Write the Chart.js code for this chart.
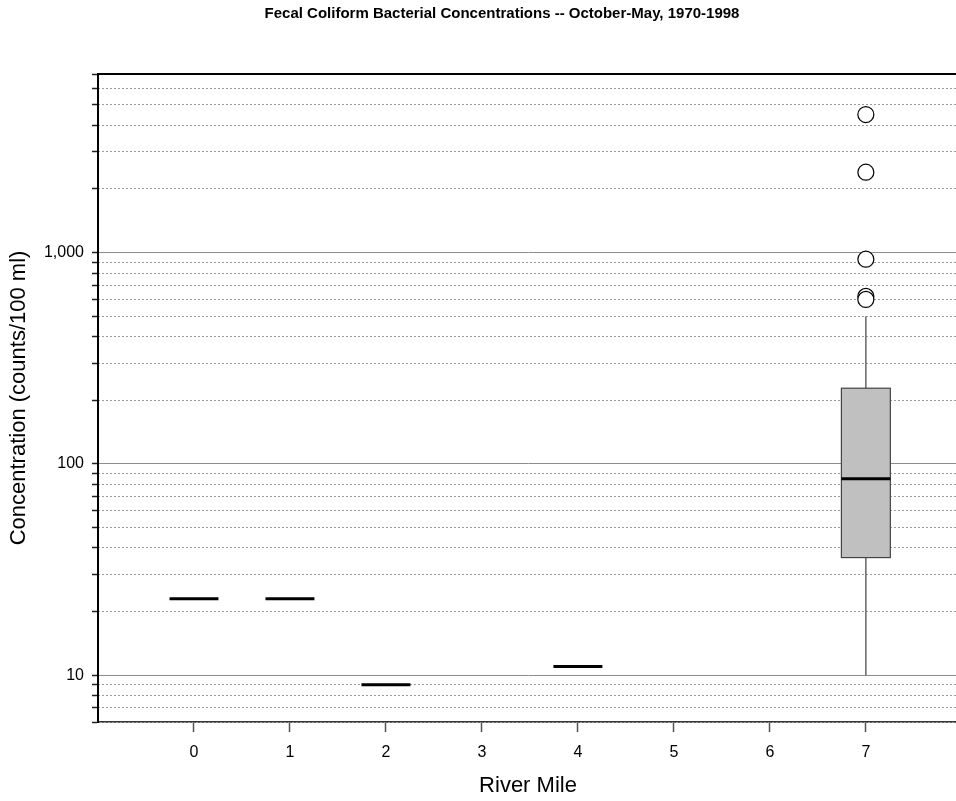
<!DOCTYPE html>
<html>
<head>
<meta charset="utf-8">
<script src="https://cdn.jsdelivr.net/npm/chart.js@4.4.1/dist/chart.umd.min.js"></script>
<style>
    html, body { margin: 0; padding: 0; background: #fff; overflow: hidden; }
    #wrap { width: 1004px; height: 801px; position: relative; }
</style>
</head>
<body>
<div id="wrap"><canvas id="fecalChart"></canvas></div>
<script>
// River miles (categories) and the summary values
const miles = [0, 1, 2, 3, 4, 5, 6, 7];
const medians = [23, 23, 9, null, 11, null, null, 85];
const q1 = [null, null, null, null, null, null, null, 36];
const q3 = [null, null, null, null, null, null, null, 228];
const whiskerLow = [null, null, null, null, null, null, null, 10];
const whiskerHigh = [null, null, null, null, null, null, null, 500];

// outliers (all at river mile 7)
const outlierMiles = [7, 7, 7, 7, 7];
const outlierValues = [4500, 2400, 930, 620, 600];

// y tick values
const majorTicks = [10, 100, 1000];
const minorTicks = [6, 7, 8, 9, 20, 30, 40, 50, 60, 70, 80, 90,
    200, 300, 400, 500, 600, 700, 800, 900, 2000, 3000, 4000, 5000, 6000, 7000];
const allTicks = [...minorTicks, ...majorTicks].sort((a, b) => a - b);

const FONT = '"Liberation Sans", Arial, sans-serif';
const BOX_HALF = 0.255;
const X_MIN = -1;
const X_MAX = 7.96; // plot runs to the right edge of the window, as in the original

// Box, whisker and median drawing, positioned through the chart scales
const boxPlugin = {
    id: 'boxes',
    beforeDatasetsDraw(chart) {
        const { ctx, chartArea } = chart;
        const x = chart.scales.x;
        const y = chart.scales.y;
        ctx.save();
        ctx.beginPath();
        ctx.rect(chartArea.left, chartArea.top, chartArea.right - chartArea.left, chartArea.bottom - chartArea.top);
        ctx.clip();
        miles.forEach((m, i) => {
            const cx = x.getPixelForValue(m);
            const left = x.getPixelForValue(m - BOX_HALF);
            const right = x.getPixelForValue(m + BOX_HALF);
            if (q1[i] !== null) {
                // whiskers
                ctx.strokeStyle = '#666';
                ctx.lineWidth = 1.5;
                ctx.beginPath();
                ctx.moveTo(cx, y.getPixelForValue(whiskerHigh[i]));
                ctx.lineTo(cx, y.getPixelForValue(q3[i]));
                ctx.moveTo(cx, y.getPixelForValue(q1[i]));
                ctx.lineTo(cx, y.getPixelForValue(whiskerLow[i]));
                ctx.stroke();
                // box
                const top = y.getPixelForValue(q3[i]);
                const bottom = y.getPixelForValue(q1[i]);
                ctx.fillStyle = '#c0c0c0';
                ctx.fillRect(left, top, right - left, bottom - top);
                ctx.strokeStyle = '#444';
                ctx.lineWidth = 1.2;
                ctx.strokeRect(left, top, right - left, bottom - top);
            }
            if (medians[i] !== null) {
                const my = y.getPixelForValue(medians[i]);
                ctx.strokeStyle = '#000';
                ctx.lineWidth = 3;
                ctx.beginPath();
                ctx.moveTo(left, my);
                ctx.lineTo(right, my);
                ctx.stroke();
            }
        });
        ctx.restore();
    }
};

const setTicks = (values) => (scale) => {
    scale.ticks = values.map(v => ({ value: v }));
};

const ctx = document.getElementById('fecalChart').getContext('2d');
const fecalChart = new Chart(ctx, {
    type: 'scatter',
    data: {
        datasets: [
            {
                label: 'Outliers',
                xAxisID: 'x',
                yAxisID: 'y',
                data: outlierMiles.map((m, i) => ({ x: m, y: outlierValues[i] })),
                pointRadius: 8,
                pointHoverRadius: 8,
                pointBackgroundColor: '#fff',
                pointBorderColor: '#000',
                pointBorderWidth: 1.2
            }
        ]
    },
    options: {
        responsive: true,
        maintainAspectRatio: false,
        animation: false,
        layout: { padding: 0 },
        plugins: {
            legend: { display: false },
            tooltip: { enabled: false },
            title: {
                display: true,
                text: 'Fecal Coliform Bacterial Concentrations -- October-May, 1970-1998',
                color: '#000',
                font: { family: FONT, size: 15, weight: 'bold' },
                padding: { top: 5, bottom: 51 }
            }
        },
        scales: {
            x: {
                type: 'linear',
                position: 'bottom',
                min: X_MIN,
                max: X_MAX,
                afterBuildTicks: setTicks([X_MIN, ...miles]),
                afterFit: (s) => { s.height = 79; },
                ticks: {
                    color: '#000',
                    font: { family: FONT, size: 16 },
                    padding: 11,
                    autoSkip: false,
                    maxRotation: 0,
                    callback: (v) => (v >= 0 ? String(v) : '')
                },
                grid: {
                    drawOnChartArea: false,
                    drawTicks: true,
                    tickLength: 10,
                    tickWidth: 1.5,
                    tickColor: (c) => (c.tick && c.tick.value < 0 ? 'rgba(0,0,0,0)' : '#555')
                },
                border: { display: true, color: '#333', width: 1.5, dash: [3, 1] },
                title: {
                    display: true,
                    text: 'River Mile',
                    color: '#000',
                    font: { family: FONT, size: 22 },
                    padding: { top: 0, bottom: 2 }
                }
            },
            top: {
                type: 'linear',
                position: 'top',
                min: X_MIN,
                max: X_MAX,
                ticks: { display: false },
                grid: { drawOnChartArea: false, drawTicks: false },
                border: { display: true, color: '#000', width: 2 }
            },
            y: {
                type: 'logarithmic',
                position: 'left',
                min: 6,
                max: 7000,
                afterBuildTicks: setTicks(allTicks),
                afterFit: (s) => { s.width = 98; },
                ticks: {
                    color: '#000',
                    font: { family: FONT, size: 16 },
                    padding: 8,
                    autoSkip: false,
                    callback: (v) => (majorTicks.includes(v) ? v.toLocaleString('en-US') : '')
                },
                grid: {
                    color: (c) => (c.tick && majorTicks.includes(c.tick.value) ? '#8c8c8c' : 'rgba(0,0,0,0)'),
                    lineWidth: 1,
                    drawTicks: true,
                    tickLength: 6,
                    tickWidth: 1.5,
                    tickColor: '#222'
                },
                border: { display: true, color: '#000', width: 2 },
                title: {
                    display: true,
                    text: 'Concentration (counts/100 ml)',
                    color: '#000',
                    font: { family: FONT, size: 22 },
                    padding: { top: 6, bottom: 0 }
                }
            },
            yMinor: {
                type: 'logarithmic',
                position: 'left',
                weight: 1,
                min: 6,
                max: 7000,
                afterBuildTicks: setTicks(allTicks),
                afterFit: (s) => { s.width = 0; },
                ticks: { display: false },
                grid: {
                    color: (c) => (c.tick && majorTicks.includes(c.tick.value) ? 'rgba(0,0,0,0)' : '#9a9a9a'),
                    lineWidth: 1,
                    drawTicks: false
                },
                border: { display: false, dash: [2, 2] }
            },
            // empty right-hand axis: only reserves the strip past the window edge
            rightPad: {
                type: 'linear',
                position: 'right',
                min: 0,
                max: 1,
                afterFit: (s) => { s.width = 46; },
                ticks: { display: false },
                grid: { display: false, drawTicks: false },
                border: { display: false }
            }
        }
    },
    plugins: [boxPlugin]
});
</script>
</body>
</html>
